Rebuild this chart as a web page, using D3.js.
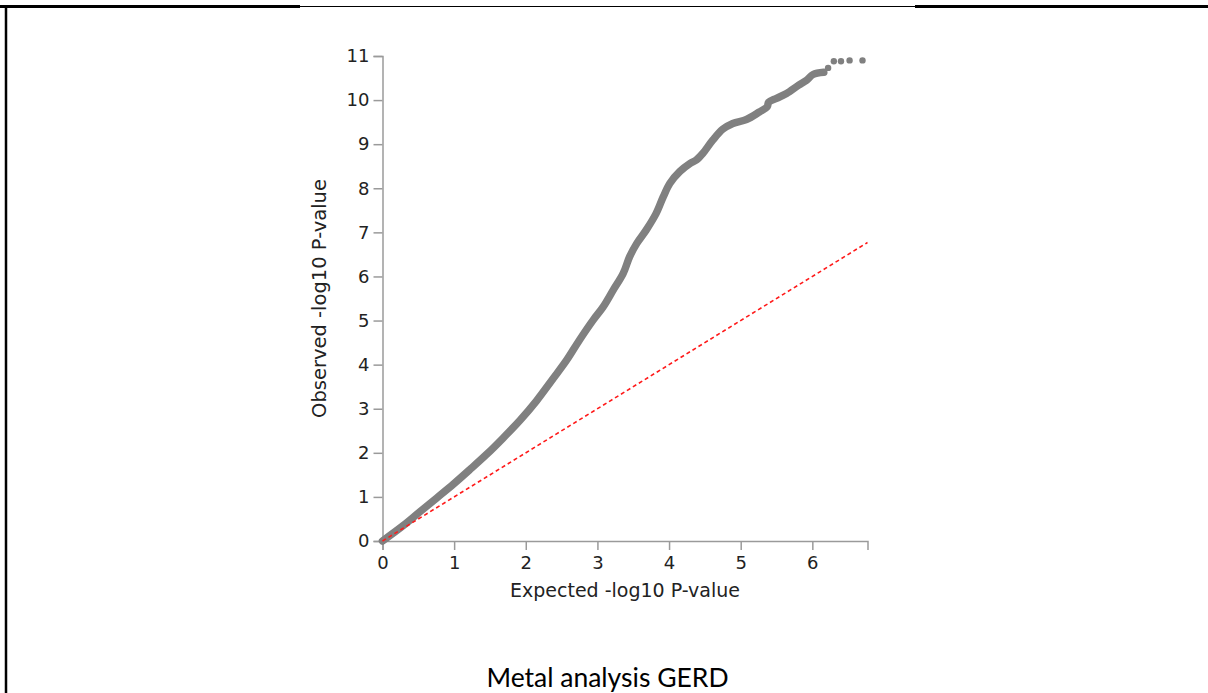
<!DOCTYPE html>
<html>
<head>
<meta charset="utf-8">
<script src="https://cdn.jsdelivr.net/npm/d3@7"></script>
<style>
  html, body { margin: 0; padding: 0; background: #fff; }
  svg { display: block; }
</style>
</head>
<body>
<script>
// ---- Data ----
// Dense part of the QQ curve (expected vs observed -log10 P)
const expectedDense = [0, 0.29, 0.52, 0.76, 0.99, 1.22, 1.45, 1.68, 1.92, 2.15, 2.38, 2.57, 2.75, 2.94, 3.08, 3.22, 3.36, 3.45, 3.55, 3.68, 3.82, 3.92, 4.01, 4.15, 4.29, 4.38, 4.47, 4.61, 4.75, 4.89, 5.08, 5.26, 5.37, 5.39, 5.50, 5.64, 5.81, 5.92, 6.01, 6.16];
const observedDense = [0, 0.35, 0.66, 0.98, 1.29, 1.62, 1.96, 2.33, 2.74, 3.18, 3.68, 4.10, 4.56, 5.01, 5.31, 5.69, 6.07, 6.45, 6.75, 7.05, 7.43, 7.81, 8.11, 8.38, 8.56, 8.64, 8.79, 9.09, 9.34, 9.47, 9.56, 9.73, 9.85, 9.95, 10.04, 10.15, 10.34, 10.45, 10.58, 10.63];
// Sparse top points
const expectedTop = [6.22, 6.30, 6.40, 6.52, 6.70];
const observedTop = [10.73, 10.88, 10.88, 10.90, 10.90];
// Reference line y = x
const refLine = [0, 6.77];
// Axis domains and ticks
const xDomain = [0, 6.77];
const yDomain = [0, 11];
const xTicks = [0, 1, 2, 3, 4, 5, 6];
const yTicks = [0, 1, 2, 3, 4, 5, 6, 7, 8, 9, 10, 11];
const xTitle = "Expected -log10 P-value";
const yTitle = "Observed -log10 P-value";
const caption = "Metal analysis GERD";

// ---- Drawing ----
const W = 1208, H = 693;
const svg = d3.select("body").append("svg").attr("width", W).attr("height", H);

// page frame (document border)
const frame = svg.append("g").attr("stroke", "#000");
frame.append("line").attr("x1", 0).attr("x2", 300).attr("y1", 6.5).attr("y2", 6.5).attr("stroke-width", 3);
frame.append("line").attr("x1", 300).attr("x2", 915).attr("y1", 6.5).attr("y2", 6.5).attr("stroke-width", 1);
frame.append("line").attr("x1", 915).attr("x2", W).attr("y1", 6.5).attr("y2", 6.5).attr("stroke-width", 3);
frame.append("line").attr("x1", 6).attr("x2", 6).attr("y1", 5).attr("y2", H).attr("stroke-width", 2.5);

const x = d3.scaleLinear().domain(xDomain).range([382.5, 867.5]);
const y = d3.scaleLinear().domain(yDomain).range([541, 56]);

const axisColor = "#9a9a9a";
const textColor = "#222";
const font = "DejaVu Sans, sans-serif";

const gx = svg.append("g").attr("transform", `translate(0,${y(0)})`)
  .call(d3.axisBottom(x).tickValues(xTicks).tickFormat(d3.format("d")).tickSize(9).tickPadding(6));
const gy = svg.append("g").attr("transform", `translate(${x(0)},0)`)
  .call(d3.axisLeft(y).tickValues(yTicks).tickFormat(d3.format("d")).tickSize(9).tickPadding(4));
[gx, gy].forEach(g => {
  g.selectAll("path, line").attr("stroke", axisColor).attr("stroke-width", 1.5);
  g.selectAll("text").attr("fill", textColor).style("font-family", font).style("font-size", "18px");
});

// QQ curve (dense points rendered as a thick band)
const pts = expectedDense.map((e, i) => [e, observedDense[i]]);
svg.append("path")
  .datum(pts)
  .attr("fill", "none")
  .attr("stroke", "#808080")
  .attr("stroke-width", 7.5)
  .attr("stroke-linecap", "round")
  .attr("stroke-linejoin", "round")
  .attr("d", d3.line().x(d => x(d[0])).y(d => y(d[1])).curve(d3.curveCatmullRom));

svg.append("g").selectAll("circle")
  .data(expectedTop.map((e, i) => [e, observedTop[i]]))
  .join("circle")
  .attr("cx", d => x(d[0])).attr("cy", d => y(d[1])).attr("r", 3.2)
  .attr("fill", "#808080");

// reference line
svg.append("line")
  .attr("x1", x(refLine[0])).attr("y1", y(refLine[0]))
  .attr("x2", x(refLine[1])).attr("y2", y(refLine[1]))
  .attr("stroke", "#ff1a1a").attr("stroke-width", 1.6)
  .attr("stroke-dasharray", "4,3");

// axis titles
svg.append("text")
  .attr("x", (x.range()[0] + x.range()[1]) / 2).attr("y", 597)
  .attr("text-anchor", "middle").attr("fill", textColor)
  .style("font-family", font).style("font-size", "19px")
  .text(xTitle);
svg.append("text")
  .attr("transform", `translate(326,${(y.range()[0] + y.range()[1]) / 2}) rotate(-90)`)
  .attr("text-anchor", "middle").attr("fill", textColor)
  .style("font-family", font).style("font-size", "19.5px")
  .text(yTitle);

// caption
svg.append("text")
  .attr("x", 607.5).attr("y", 687)
  .attr("text-anchor", "middle").attr("fill", "#000")
  .style("font-family", "Lato, 'Liberation Sans', sans-serif").style("font-size", "26.5px")
  .text(caption);
</script>
</body>
</html>
